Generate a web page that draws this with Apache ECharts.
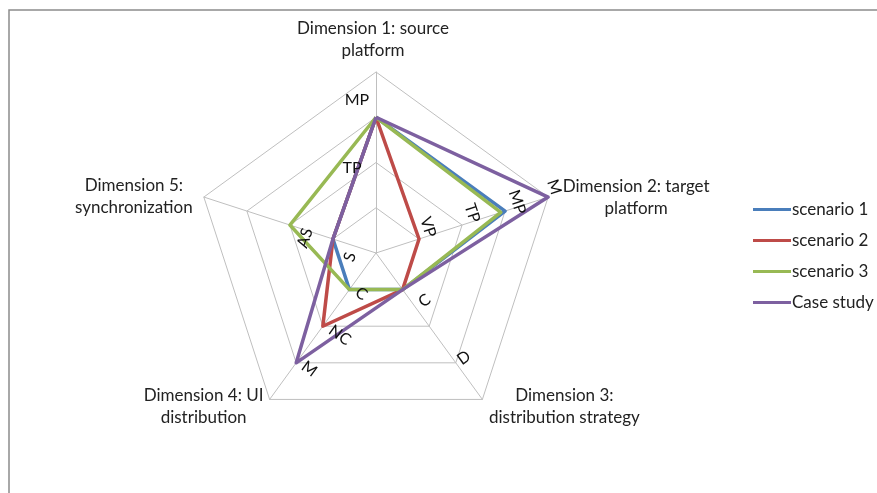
<!DOCTYPE html>
<html>
<head>
<meta charset="utf-8">
<script src="https://cdn.jsdelivr.net/npm/echarts@6/dist/echarts.min.js"></script>
<style>
  html, body { margin: 0; padding: 0; background: #fff; }
  #main { width: 877px; height: 493px; }
</style>
</head>
<body>
<div id="main"></div>
<script>
// dimensions, clockwise from the top (as in the original chart)
const dimensionNames = [
  'Dimension 1: source\nplatform',
  'Dimension 2: target\nplatform',
  'Dimension 3:\ndistribution strategy',
  'Dimension 4: UI\ndistribution',
  'Dimension 5:\nsynchronization'
];
const seriesNames = ['scenario 1', 'scenario 2', 'scenario 3', 'Case study'];
const scenario1 = [3, 3, 1, 1, 1];
const scenario2 = [3, 1, 1, 2, 1];
const scenario3 = [3, 2.9, 1, 1, 2];
const caseStudy = [3, 4, 1, 3, 1];

// tick labels per level (0..4) on each dimension
const dim1Ticks = ['', '', 'TP', 'MP', ''];
const dim2Ticks = ['', 'VP', 'TP', 'MP', 'M'];
const dim3Ticks = ['', 'C', '', 'D', ''];
const dim4Ticks = ['', 'C', 'NC', 'M', ''];
const dim5Ticks = ['', 'S', 'AS', '', ''];
const maxLevel = 4;

const colors = ['#4A7EBB', '#BE4B48', '#98B954', '#7D60A0'];
const font = 'Lato, "Open Sans", sans-serif';

// where the tick text sits relative to its level point (px)
const tickOffsets = [
  [null, null, [-24, 5], [-19, -17], null],
  [null, [9, -12], [10, -12], [12, -9], [6, -10]],
  [null, [22, 11], null, [8, -5], null],
  [null, [12, 4], [17, 9], [13, 6], null],
  [null, [17, 18], [15, 13], null, null]
];
// where each dimension name sits relative to the outer vertex
const nameOffsets = [[-3, -32], [88, 0], [82, 7], [-66, 7], [-70, -1]];

// echarts places indicators counter-clockwise, excel clockwise
const n = dimensionNames.length;
const toEc = i => (n - i) % n;
const reorder = arr => arr.map((_, k) => arr[(n - k) % n]);

const chart = echarts.init(document.getElementById('main'));

const option = {
  animation: false,
  color: colors,
  legend: {
    orient: 'vertical',
    left: 748,
    top: 196,
    icon: 'rect',
    itemWidth: 38,
    itemHeight: 3,
    itemGap: 14,
    textStyle: { fontFamily: font, fontSize: 17, color: '#222', padding: [0, 0, 0, -4] },
    data: seriesNames
  },
  radar: {
    center: [376, 253],
    radius: 181,
    startAngle: 90,
    shape: 'polygon',
    splitNumber: 4,
    indicator: reorder(dimensionNames).map(name => ({ name: name, min: 0, max: maxLevel })),
    axisName: { show: false },
    axisLine: { lineStyle: { color: '#BFBFBF', width: 1 } },
    splitLine: { lineStyle: { color: '#BFBFBF', width: 1 } },
    splitArea: { show: false },
    axisTick: { show: false },
    axisLabel: { show: false }
  },
  series: [{
    type: 'radar',
    symbol: 'none',
    data: [scenario1, scenario2, scenario3, caseStudy].map((vals, k) => ({
      name: seriesNames[k],
      value: reorder(vals),
      lineStyle: { color: colors[k], width: 3.5, join: 'round' },
      itemStyle: { color: colors[k] }
    }))
  }]
};

chart.setOption(option);

// annotations placed through the radar coordinate system
const radarCs = chart.getModel().getComponent('radar', 0).coordinateSystem;
const allTicks = [dim1Ticks, dim2Ticks, dim3Ticks, dim4Ticks, dim5Ticks];
const graphics = [{
  type: 'rect',
  z: 100,
  shape: { x: 9, y: 10, width: 1000, height: 1000 },
  style: { fill: 'none', stroke: '#8C8C8C', lineWidth: 1.5 }
}];

allTicks.forEach((ticks, i) => {
  const axisAngle = 90 - 72 * i;
  let rot = axisAngle - 90;
  while (rot > 180) rot -= 360;
  while (rot <= -180) rot += 360;
  if (rot > 90) rot -= 180;
  if (rot <= -90) rot += 180;
  ticks.forEach((label, level) => {
    if (!label) return;
    const p = radarCs.dataToPoint(level, toEc(i));
    const off = tickOffsets[i][level] || [0, 0];
    graphics.push({
      type: 'text',
      z: 100,
      x: p[0] + off[0],
      y: p[1] + off[1],
      rotation: rot * Math.PI / 180,
      style: {
        text: label, fill: '#111', fontFamily: font, fontSize: 16,
        align: 'center', verticalAlign: 'middle'
      }
    });
  });
});

dimensionNames.forEach((name, i) => {
  const p = radarCs.dataToPoint(maxLevel, toEc(i));
  graphics.push({
    type: 'text',
    z: 100,
    x: p[0] + nameOffsets[i][0],
    y: p[1] + nameOffsets[i][1],
    style: {
      text: name, fill: '#222', fontFamily: font, fontSize: 17, lineHeight: 22,
      align: 'center', verticalAlign: 'middle',
      backgroundColor: i === 1 ? '#fff' : null
    }
  });
});

chart.setOption({ graphic: graphics });
</script>
</body>
</html>
